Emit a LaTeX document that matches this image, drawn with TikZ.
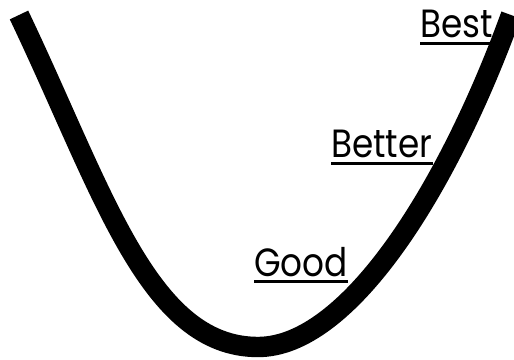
\documentclass[tikz,border=0pt]{standalone}
\usepackage{fontspec}
\setmainfont{Poppins}
\usetikzlibrary{calc}

\begin{document}
\begin{tikzpicture}[
  x=0.025cm, y=-0.025cm,
  curve/.style={line width=14.5pt, black},
  level/.style={font=\fontsize{28}{28}\selectfont, anchor=base west,
                inner sep=0pt, xscale=0.87, transform shape},
  ul/.style={line width=2.1pt, black},
]
\useasboundingbox (0,0) rectangle (514,360);

% the curve
\coordinate (top left) at (19,15);
\coordinate (low) at (258,347);
\coordinate (top right) at (511,15);
\draw[curve] (top left) .. controls (103,191) and (148,347) .. (low)
                        .. controls (348,347) and (447,191) .. (top right);

% labels
\node[level] (good) at (254,277) {Good};
\node[level] (better) at (331,158) {Better};
\node[level] (best) at (420,38) {Best};

% underlines
\draw[ul] ([yshift=-3pt]good.base west) -- ([yshift=-3pt]good.base east);
\draw[ul] ([yshift=-4pt]better.base west) -- ([yshift=-4pt]better.base east);
\draw[ul] ([yshift=-4pt]best.base west) -- ([yshift=-4pt]best.base east);

\end{tikzpicture}
\end{document}
